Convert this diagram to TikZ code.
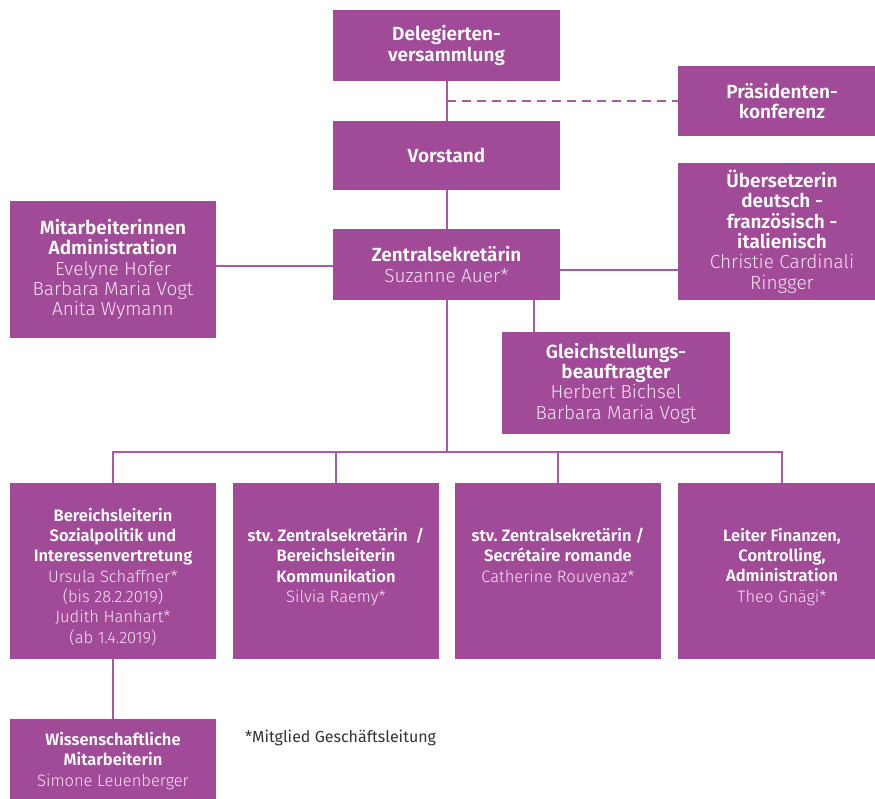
\documentclass[tikz,border=0pt]{standalone}
\usepackage{fontspec}
\setmainfont{Fira Sans}[BoldFont={Fira Sans SemiBold}]
\newfontfamily\lightfont{Fira Sans Light}
\usetikzlibrary{positioning}
\definecolor{orgpurple}{HTML}{A04A98}
\definecolor{linepurple}{HTML}{A85BA2}
\definecolor{namepink}{HTML}{F6E4F3}
\newcommand{\who}[1]{{\lightfont\mdseries\color{namepink}#1}}

\begin{document}
\begin{tikzpicture}[x=1pt,y=-1pt,
  box/.style={fill=orgpurple,inner sep=0pt,text=white,align=center,
    font=\bfseries\fontsize{19}{20.3}\selectfont},
  lowbox/.style={box,minimum height=176pt},
  boxtext/.style={inner sep=0pt,text=white,align=center,anchor=north,
    font=\bfseries\fontsize{16.5}{20.3}\selectfont},
  link/.style={linepurple,line width=2pt}]
\useasboundingbox (0,0) rectangle (875,799);

\node[box,minimum width=227pt,minimum height=71pt] (deleg) at (446.5,45.5) {Delegierten-\\versammlung};
\node[box,minimum width=208pt,minimum height=70pt] (praes) at (782,101) {Präsidenten-\\konferenz};
\node[box,minimum width=227pt,minimum height=69pt] (vorstand) at (446.5,155.5) {Vorstand};
\node[box,minimum width=227pt,minimum height=71pt] (zentral) at (446.5,264.5) {Zentralsekretärin\\\who{Suzanne Auer*}};
\node[box,minimum width=206pt,minimum height=137pt] (mitarb) at (113,269.5) {Mitarbeiterinnen\\Administration\\\who{Evelyne Hofer}\\\who{Barbara Maria Vogt}\\\who{Anita Wymann}};
\node[box,minimum width=208pt,minimum height=137pt] (uebers) at (782,231.5) {Übersetzerin\\deutsch -\\französisch -\\italienisch\\\who{Christie Cardinali}\\\who{Ringger}};
\node[box,minimum width=228pt,minimum height=102pt] (gleich) at (616,383) {Gleichstellungs-\\beauftragter\\\who{Herbert Bichsel}\\\who{Barbara Maria Vogt}};

\node[lowbox,minimum width=206pt] (bereich) at (113,571) {};
\node[lowbox,minimum width=206pt] (kommun) at (336,571) {};
\node[lowbox,minimum width=206pt] (romande) at (558,571) {};
\node[lowbox,minimum width=208pt] (finanz) at (782,571) {};
\node[boxtext] (bereich-t) at ([yshift=-25pt]bereich.north) {Bereichsleiterin\\Sozialpolitik und\\Interessenvertretung\\\who{Ursula Schaffner*}\\\who{(bis 28.2.2019)}\\\who{Judith Hanhart*}\\\who{(ab 1.4.2019)}};
\node[boxtext] (kommun-t) at ([yshift=-45pt]kommun.north) {stv.\ Zentralsekretärin~~/\\Bereichsleiterin\\Kommunikation\\\who{Silvia Raemy*}};
\node[boxtext] (romande-t) at ([yshift=-45pt]romande.north) {stv.\ Zentralsekretärin /\\Secrétaire romande\\\who{Catherine Rouvenaz*}};
\node[boxtext] (finanz-t) at ([yshift=-45pt]finanz.north) {Leiter Finanzen,\\Controlling,\\Administration\\\who{Theo Gnägi*}};

\node[box,minimum width=206pt,minimum height=84pt] (wiss) at (113,761) {};
\node[boxtext,anchor=center] (wiss-t) at (wiss) {Wissenschaftliche\\Mitarbeiterin\\\who{Simone Leuenberger}};
\node[anchor=west,inner sep=0pt,text=black!80,font=\fontsize{16}{19}\selectfont] (note) at (245,738) {*Mitglied Geschäftsleitung};

\coordinate (dj) at (446.5,101);
\coordinate (zl) at ([yshift=-1.5pt]zentral.west);
\coordinate (zr) at ([yshift=-5.5pt]zentral.east);
\coordinate (zg) at ([xshift=87pt]zentral.south);
\coordinate (bus) at (446.5,452);

\draw[link] (deleg) -- (vorstand);
\draw[link,dash pattern=on 9pt off 6pt] (dj) -- (dj -| praes.west);
\draw[link] (vorstand) -- (zentral);
\draw[link] (zl) -- (zl -| mitarb.east);
\draw[link] (zr) -- (zr -| uebers.west);
\draw[link] (zg) -- (zg |- gleich.north);
\draw[link] (zentral.south) -- (bus);
\draw[link] (bereich.north) -- (bereich.north |- bus) -- (finanz.north |- bus) -- (finanz.north);
\draw[link] (kommun.north) -- (kommun.north |- bus);
\draw[link] (romande.north) -- (romande.north |- bus);
\draw[link] (bereich.south) -- (wiss.north);

\end{tikzpicture}
\end{document}
